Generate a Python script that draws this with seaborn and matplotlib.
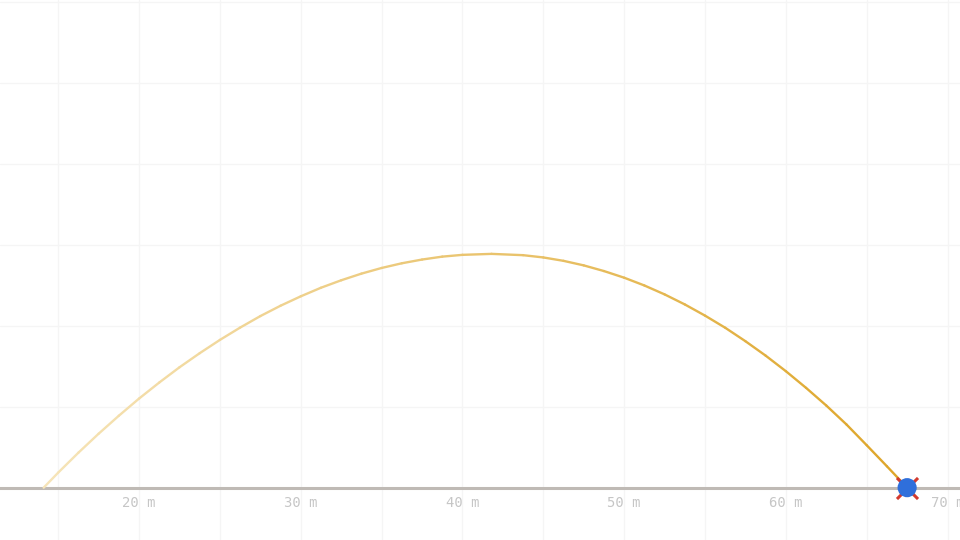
import numpy as np
import pandas as pd
import matplotlib
matplotlib.use('Agg')
import matplotlib.pyplot as plt
from matplotlib.colors import LinearSegmentedColormap
import seaborn as sns

# trajectory (metres), every 1.25 m
dist_m = [14.1, 15.0, 16.25, 17.5, 18.75, 20.0, 21.25, 22.5, 23.75, 25.0, 26.25,
          27.5, 28.75, 30.0, 31.25, 32.5, 33.75, 35.0, 36.25, 37.5, 38.75, 40.0,
          41.8, 43.75, 45.0, 46.25, 47.5, 48.75, 50.0, 51.25, 52.5, 53.75, 55.0,
          56.25, 57.5, 58.75, 60.0, 61.25, 62.5, 63.75, 65.0, 66.25, 67.5]
height_m = [0.0, 0.93, 2.16, 3.33, 4.44, 5.50, 6.49, 7.43, 8.30, 9.12, 9.88,
            10.59, 11.23, 11.81, 12.34, 12.80, 13.21, 13.56, 13.85, 14.08, 14.26, 14.37,
            14.43, 14.35, 14.21, 14.00, 13.72, 13.37, 12.96, 12.48, 11.93, 11.31, 10.62,
            9.87, 9.04, 8.15, 7.19, 6.16, 5.07, 3.90, 2.62, 1.32, 0.0]
landing = (67.5, 0.0)
tick_vals = [20, 30, 40, 50, 60, 70]
tick_text = ['20 m', '30 m', '40 m', '50 m', '60 m', '70 m']

sns.set_theme(style='white')
plt.rcParams['font.family'] = ['DejaVu Sans Mono', 'DejaVu Sans']

fig = plt.figure(figsize=(9.6, 5.4), dpi=100)
ax = fig.add_axes([0, 0, 1, 1])
ax.set_facecolor('white')

# each segment is its own hue group -> colour fades along the flight
rows = []
for i in range(len(dist_m) - 1):
    rows.append({'x': dist_m[i], 'y': height_m[i], 'seg': i})
    rows.append({'x': dist_m[i + 1], 'y': height_m[i + 1], 'seg': i})
seg_df = pd.DataFrame(rows)
n_seg = len(dist_m) - 1
cmap = LinearSegmentedColormap.from_list('fade', ['#f6e4b8', '#dea62a'])
pal = [cmap(k / (n_seg - 1)) for k in range(n_seg)]
sns.lineplot(data=seg_df, x='x', y='y', hue='seg', palette=pal, legend=False,
             sort=False, estimator=None, lw=1.7, ax=ax, zorder=3)

# landing marker: red cross under a blue dot
pt = pd.DataFrame({'x': [landing[0]], 'y': [landing[1]]})
sns.scatterplot(data=pt, x='x', y='y', marker='x', s=230, color='#d23a2f',
                linewidth=2.2, ax=ax, zorder=5)
sns.scatterplot(data=pt, x='x', y='y', marker='o', s=190, color='#2f6fdb',
                edgecolor='none', ax=ax, zorder=6)

ax.set_xlim(11.4, 70.77)
ax.set_ylim(-3.23, 30.1)

ax.set_xticks(tick_vals)
ax.set_xticklabels(tick_text)
ax.set_xticks(np.arange(15, 71, 10), minor=True)
ax.set_yticks(np.arange(5, 31, 5))
ax.set_yticklabels([])
ax.grid(True, which='both', color='#f5f5f5', lw=0.9, zorder=0)
ax.tick_params(axis='x', which='both', length=0, pad=6, labelsize=10, labelcolor='#c6c6c6')
ax.tick_params(axis='y', length=0)

for s in ['top', 'left', 'right']:
    ax.spines[s].set_visible(False)
ax.spines['bottom'].set_position(('data', 0))
ax.spines['bottom'].set_color('#bfbab5')
ax.spines['bottom'].set_linewidth(2.2)
ax.spines['bottom'].set_zorder(2)

ax.set_xlabel('')
ax.set_ylabel('')

fig.savefig('out.png', dpi=100)
